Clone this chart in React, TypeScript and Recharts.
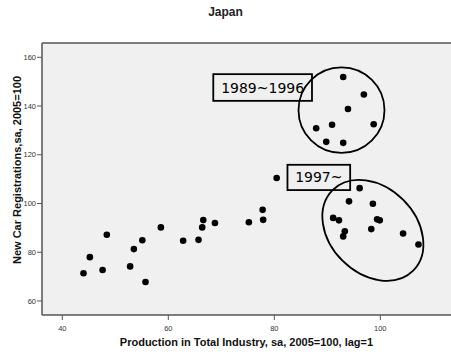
import {
  CartesianGrid,
  ReferenceDot,
  ReferenceLine,
  Scatter,
  ScatterChart,
  XAxis,
  YAxis,
} from 'recharts'

// Production in total industry (lag=1), one per year
const PRODUCTION = [
  44.0, 45.2, 47.6, 48.4, 52.8, 53.5, 55.1, 55.7, 58.6, 62.8, 65.7, 66.4, 66.6,
  68.8, 75.2, 77.8, 77.9, 80.45,
  93.0, 96.9, 93.9, 98.75, 87.9, 90.9, 89.8, 93.0,
  96.1, 94.1, 98.6, 91.1, 92.2, 99.4, 99.9, 98.3, 93.3, 93.0, 104.3, 107.2,
]

// New car registrations, same order
const REGISTRATIONS = [
  71.4, 78.0, 72.7, 87.2, 74.2, 81.3, 84.9, 67.8, 90.2, 84.7, 85.1, 90.2, 93.2,
  92.0, 92.3, 97.4, 93.3, 110.5,
  151.9, 144.7, 138.8, 132.5, 130.9, 132.3, 125.3, 124.9,
  106.3, 100.9, 99.9, 94.1, 93.1, 93.5, 93.1, 89.5, 88.6, 86.5, 87.7, 83.2,
]

const X_TICKS = [40, 60, 80, 100]
const Y_TICKS = [60, 80, 100, 120, 140, 160]
const X_DOMAIN = [36.17, 113.34]
const Y_DOMAIN = [54.26, 165.86]

// annotation boxes: label, centre x, centre y
const BOX_LABELS = ['1989~1996', '1997~']
const BOX_X = [77.8, 88.4]
const BOX_Y = [147.6, 110.7]

// period ellipses: centre x, centre y
const RING_X = [92.68, 98.6]
const RING_Y = [138.3, 89.0]

const FRAME = '#555'
const tickStyle = { fontSize: 7.5, fill: '#333', fontFamily: 'Liberation Sans, Arial' }
const titleFont = 'Liberation Sans, Arial'

export default function App() {
  const data = PRODUCTION.map((x, i) => ({ x, y: REGISTRATIONS[i] }))

  const boxSizes = [
    { w: 98.7, h: 26.7 },
    { w: 62.7, h: 25.3 },
  ]
  const ringSizes = [
    { rx: 43, ry: 42.7, rot: 0 },
    { rx: 57, ry: 43, rot: 45 },
  ]

  return (
    <div style={{ position: 'absolute', left: 0, top: 0, width: 451, height: 356 }}>
      <div
        style={{
          position: 'absolute',
          top: 5,
          left: 0,
          width: 451,
          textAlign: 'center',
          fontFamily: titleFont,
          fontWeight: 'bold',
          fontSize: 12,
          color: '#222',
        }}
      >
        Japan
      </div>
      <ScatterChart
        width={451}
        height={356}
        margin={{ top: 43, right: 0, bottom: 0, left: 0 }}
      >
        <CartesianGrid fill="#f0f0f0" horizontal={false} vertical={false} />
        <XAxis
          type="number"
          dataKey="x"
          domain={X_DOMAIN}
          ticks={X_TICKS}
          allowDataOverflow
          height={41}
          tickSize={5}
          tickMargin={6}
          tick={tickStyle}
          tickLine={{ stroke: FRAME }}
          axisLine={{ stroke: FRAME, strokeWidth: 1.5 }}
          label={{
            content: (p: any) => {
              const vb = p.viewBox
              return (
                <text
                  x={vb.x + vb.width / 2}
                  y={346}
                  textAnchor="middle"
                  fontFamily={titleFont}
                  fontWeight="bold"
                  fontSize={11}
                  fill="#111"
                >
                  Production in Total Industry, sa, 2005=100, lag=1
                </text>
              )
            },
          }}
        />
        <YAxis
          type="number"
          dataKey="y"
          domain={Y_DOMAIN}
          ticks={Y_TICKS}
          allowDataOverflow
          width={42}
          tickSize={5}
          tickMargin={1}
          tick={tickStyle}
          tickLine={{ stroke: FRAME }}
          axisLine={{ stroke: FRAME, strokeWidth: 1.5 }}
          label={{
            content: () => (
              <text
                x={0}
                y={0}
                transform="translate(21 170) rotate(-90)"
                textAnchor="middle"
                fontFamily={titleFont}
                fontWeight="bold"
                fontSize={11}
                fill="#111"
              >
                New Car Registrations,sa, 2005=100
              </text>
            ),
          }}
        />
        <ReferenceLine y={Y_DOMAIN[1]} stroke={FRAME} strokeWidth={1.5} />
        <Scatter
          data={data}
          isAnimationActive={false}
          shape={(p: any) => <circle cx={p.cx} cy={p.cy} r={3.3} fill="#000" />}
        />
        {RING_X.map((x, i) => (
          <ReferenceDot
            key={`ring-${i}`}
            x={x}
            y={RING_Y[i]}
            shape={(p: any) => (
              <ellipse
                cx={p.cx}
                cy={p.cy}
                rx={ringSizes[i].rx}
                ry={ringSizes[i].ry}
                transform={`rotate(${ringSizes[i].rot} ${p.cx} ${p.cy})`}
                fill="none"
                stroke="#000"
                strokeWidth={1.8}
              />
            )}
          />
        ))}
        {BOX_LABELS.map((label, i) => (
          <ReferenceDot
            key={`box-${i}`}
            x={BOX_X[i]}
            y={BOX_Y[i]}
            shape={(p: any) => (
              <g>
                <rect
                  x={p.cx - boxSizes[i].w / 2}
                  y={p.cy - boxSizes[i].h / 2}
                  width={boxSizes[i].w}
                  height={boxSizes[i].h}
                  fill="none"
                  stroke="#000"
                  strokeWidth={1.8}
                />
                <text
                  x={p.cx}
                  y={p.cy + 5}
                  textAnchor="middle"
                  fontFamily="DejaVu Sans"
                  fontSize={14}
                  fill="#000"
                >
                  {label}
                </text>
              </g>
            )}
          />
        ))}
      </ScatterChart>
    </div>
  )
}
